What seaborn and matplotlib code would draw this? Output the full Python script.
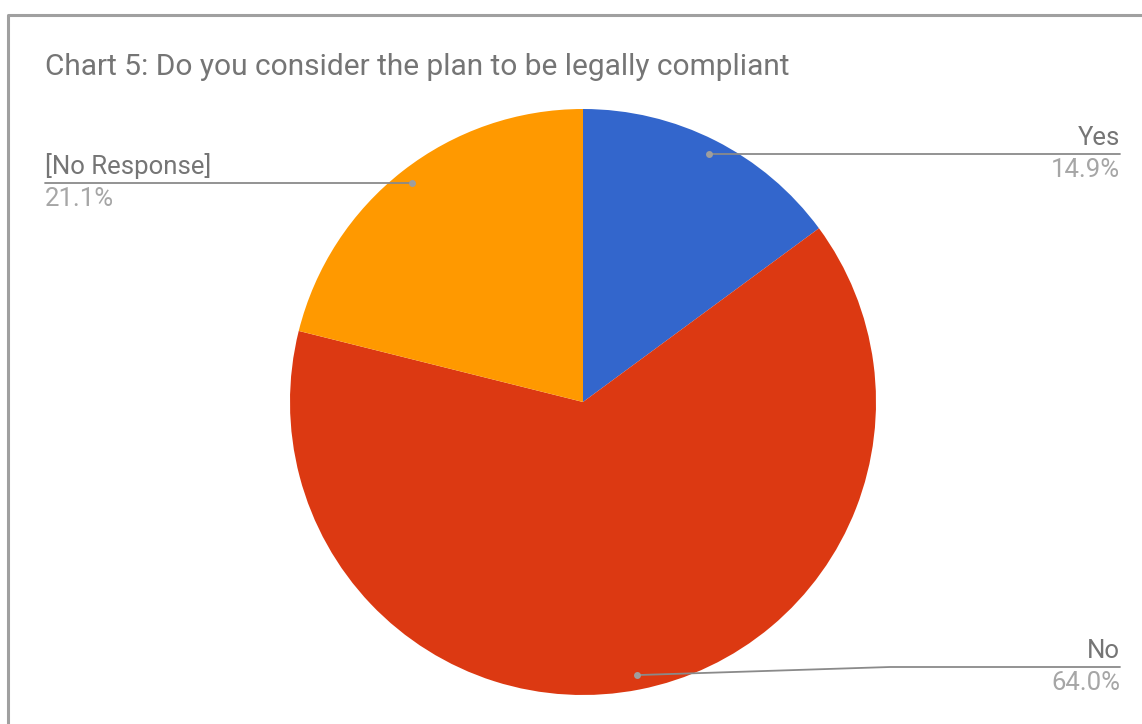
import numpy as np
import matplotlib
matplotlib.use('Agg')
import matplotlib.pyplot as plt
import seaborn as sns

title = 'Chart 5: Do you consider the plan to be legally compliant'
labels = ['Yes', 'No', '[No Response]']
shares = [14.9, 64.0, 21.1]
colors = ['#3366cc', '#dc3912', '#ff9900']

sns.set_theme(style='white')
plt.rcParams['font.family'] = ['Roboto', 'DejaVu Sans']

W, H = 1142, 724
fig = plt.figure(figsize=(W / 100, H / 100), dpi=100)
ax = fig.add_axes([0, 0, 1, 1])

# frame (top and left edges visible in the crop)
ax.plot([8, 8, W], [H, 15, 15], color='#a0a0a0', lw=2.2, solid_capstyle='butt')

ax.text(45, 67, title, fontsize=21.5, color='#757575', va='center', ha='left')

cx, cy, r = 583, 402, 293
# y axis is inverted, so counterclock=True draws clockwise on screen
wedges, _ = ax.pie(shares, colors=colors, startangle=-90, counterclock=True,
                   center=(cx, cy), radius=r, frame=True,
                   wedgeprops=dict(linewidth=0))
ax.set_xlim(0, W)
ax.set_ylim(H, 0)
ax.set_aspect('equal')
ax.axis('off')

line_c = '#8a8a8a'
name_c = '#757575'
pct_c = '#a6a6a6'
fs = 18.5
# anchor points from the mid-angle of each wedge
pts = []
for w in wedges:
    mid = np.deg2rad((w.theta1 + w.theta2) / 2)
    pts.append((cx + 0.95 * r * np.cos(mid), cy + 0.95 * r * np.sin(mid)))

# Yes - right side
px, py = pts[0]
ax.plot([px, 1120], [py, py], color=line_c, lw=1.3)
ax.text(1120, py - 4, labels[0], fontsize=fs, color=name_c, ha='right', va='bottom')
ax.text(1120, py + 4, f'{shares[0]:.1f}%', fontsize=fs, color=pct_c, ha='right', va='top')

# No - right side, bottom
px, py = pts[1]
ly = 667
ax.plot([px, 890, 1120], [py, ly, ly], color=line_c, lw=1.3)
ax.text(1120, ly - 4, labels[1], fontsize=fs, color=name_c, ha='right', va='bottom')
ax.text(1120, ly + 4, f'{shares[1]:.1f}%', fontsize=fs, color=pct_c, ha='right', va='top')

# No Response - left side
px, py = pts[2]
ax.plot([45, px], [py, py], color=line_c, lw=1.3)
ax.text(45, py - 4, labels[2], fontsize=fs, color=name_c, ha='left', va='bottom')
ax.text(45, py + 4, f'{shares[2]:.1f}%', fontsize=fs, color=pct_c, ha='left', va='top')

for px, py in pts:
    ax.plot(px, py, 'o', color='#9e9e9e', ms=5, mec='none')

fig.savefig('out.png', dpi=100)
